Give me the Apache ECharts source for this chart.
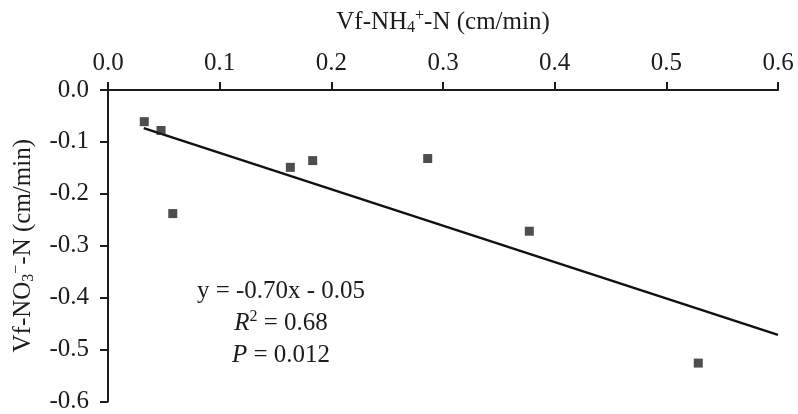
<!DOCTYPE html>
<html><head><meta charset="utf-8">
<script src="https://cdn.jsdelivr.net/npm/echarts@6/dist/echarts.min.js"></script>
<style>html,body{margin:0;padding:0;background:#fff}#c{width:798px;height:414px}</style>
</head><body><div id="c"></div>
<script>
// Data
const vfNH4 = [0.0325, 0.0475, 0.058, 0.1633, 0.1833, 0.2863, 0.3773, 0.5286];
const vfNO3 = [-0.061, -0.078, -0.238, -0.149, -0.136, -0.132, -0.272, -0.526];
const fitX = [0.032, 0.6];
const fitY = [-0.0735, -0.4716];
const xTicks = { min: 0, max: 0.6, interval: 0.1 };
const yTicks = { min: -0.6, max: 0, interval: 0.1 };
const annotation = ['{t|y = -0.70x - 0.05}', '{i|R}{sup|2}{t| = 0.68}', '{i|P}{t| = 0.012}'];

const FONT = 'Liberation Serif';
const INK = '#1c1c1c';
const FS = 25;
const chart = echarts.init(document.getElementById('c'), null, { renderer: 'canvas' });
const points = vfNH4.map((x, i) => [x, vfNO3[i]]);
const fit = fitX.map((x, i) => [x, fitY[i]]);

const richTitle = {
  t: { fontFamily: FONT, fontSize: FS, color: INK },
  sub: { fontFamily: FONT, fontSize: 16, color: INK, padding: [12, 0, 0, 0] },
  sup: { fontFamily: FONT, fontSize: 16, color: INK, padding: [0, 0, 12, 0] }
};

chart.setOption({
  backgroundColor: '#fff',
  animation: false,
  textStyle: { fontFamily: FONT },
  grid: { left: 108, top: 90, right: 20, bottom: 11, containLabel: false },
  xAxis: {
    type: 'value', position: 'top',
    min: xTicks.min, max: xTicks.max, interval: xTicks.interval,
    name: '{t|Vf-NH}{sub|4}{sup|+}{t|-N (cm/min)}',
    nameLocation: 'middle', nameGap: 54,
    nameTextStyle: { fontFamily: FONT, rich: richTitle },
    axisLine: { show: true, lineStyle: { color: INK, width: 2 } },
    axisTick: { show: true, inside: false, length: 8, lineStyle: { color: INK, width: 2 } },
    axisLabel: { fontFamily: FONT, fontSize: FS, color: INK, margin: 14,
      formatter: v => v.toFixed(1) },
    splitLine: { show: false }
  },
  yAxis: {
    type: 'value',
    min: yTicks.min, max: yTicks.max, interval: yTicks.interval,
    name: '{t|Vf-NO}{sub|3}{sup|−}{t|-N (cm/min)}',
    nameLocation: 'middle', nameGap: 71, nameRotate: 90,
    nameTextStyle: { fontFamily: FONT, rich: richTitle },
    axisLine: { show: true, lineStyle: { color: INK, width: 2 } },
    axisTick: { show: true, inside: false, length: 8, lineStyle: { color: INK, width: 2 } },
    axisLabel: { fontFamily: FONT, fontSize: FS, color: INK, margin: 19,
      formatter: v => v.toFixed(1) },
    splitLine: { show: false }
  },
  series: [
    {
      type: 'line', data: fit, showSymbol: false, symbol: 'none',
      lineStyle: { color: '#111', width: 2.5 }, z: 2, silent: true
    },
    {
      type: 'scatter', data: points, symbol: 'rect', symbolSize: 9,
      itemStyle: { color: '#222' }, z: 3
    }
  ],
  graphic: [{
    type: 'text', x: 281, y: 275,
    style: {
      text: annotation.join('\n'),
      align: 'center', verticalAlign: 'top',
      fontFamily: FONT, fontSize: FS, fill: INK, lineHeight: 32,
      rich: {
        t: { fontFamily: FONT, fontSize: FS, fill: INK, lineHeight: 32 },
        i: { fontFamily: FONT, fontSize: FS, fontStyle: 'italic', fill: INK, lineHeight: 32 },
        sup: { fontFamily: FONT, fontSize: 16, fill: INK, padding: [0, 0, 12, 0] }
      }
    }
  }]
});
</script></body></html>
